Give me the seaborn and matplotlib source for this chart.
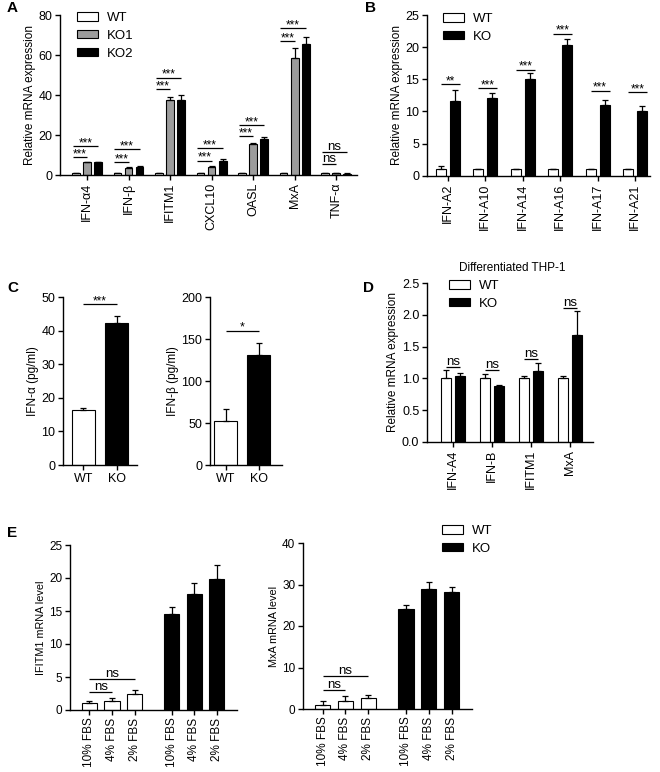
import numpy as np
import pandas as pd
import matplotlib
matplotlib.use("Agg")
import matplotlib.pyplot as plt
import seaborn as sns
from matplotlib.patches import Patch
from matplotlib.container import BarContainer

# ---------------- data ----------------
A_genes = ["IFN-α4", "IFN-β", "IFITM1", "CXCL10", "OASL", "MxA", "TNF-α"]
A_wt = [1.0, 1.0, 1.0, 1.0, 1.0, 1.0, 1.0]
A_wt_err = [0.2, 0.2, 0.2, 0.2, 0.2, 0.2, 0.2]
A_ko1 = [6.3, 3.7, 37.5, 4.2, 15.3, 58.7, 0.9]
A_ko1_err = [0.3, 0.3, 1.7, 0.5, 0.5, 4.6, 0.1]
A_ko2 = [6.3, 4.2, 37.5, 7.2, 17.8, 65.3, 0.7]
A_ko2_err = [0.2, 0.3, 2.5, 0.8, 1.2, 3.9, 0.1]
A_sig_lo = [8.8, 6.5, 42.8, 7.2, 19.5, 67.0, 5.3]
A_sig_hi = [14.5, 12.8, 48.7, 13.3, 24.8, 73.5, 11.3]
A_sig_lab = ["***", "***", "***", "***", "***", "***", "ns"]

B_genes = ["IFN-A2", "IFN-A10", "IFN-A14", "IFN-A16", "IFN-A17", "IFN-A21"]
B_wt = [1.0, 1.0, 1.0, 1.0, 1.0, 1.0]
B_wt_err = [0.5, 0.1, 0.1, 0.1, 0.1, 0.1]
B_ko = [11.6, 12.1, 15.1, 20.4, 11.0, 10.1]
B_ko_err = [1.8, 0.8, 0.8, 0.8, 0.7, 0.8]
B_sig = [14.2, 13.6, 16.5, 22.1, 13.2, 13.0]
B_sig_lab = ["**", "***", "***", "***", "***", "***"]

C_groups = ["WT", "KO"]
C_alpha = [16.3, 42.2]
C_alpha_err = [0.6, 2.2]
C_beta = [52.5, 130.8]
C_beta_err = [14.0, 15.0]
C_alpha_sig = 47.9
C_beta_sig = 160.0

D_genes = ["IFN-A4", "IFN-B", "IFITM1", "MxA"]
D_wt = [1.0, 1.0, 1.0, 1.0]
D_wt_err = [0.13, 0.07, 0.03, 0.03]
D_ko = [1.03, 0.875, 1.12, 1.69]
D_ko_err = [0.05, 0.025, 0.13, 0.37]
D_sig = [1.18, 1.13, 1.30, 2.11]

E_conditions = ["10% FBS", "4% FBS", "2% FBS"]
E_ifitm1_wt = [1.0, 1.36, 2.37]
E_ifitm1_wt_err = [0.4, 0.41, 0.73]
E_ifitm1_ko = [14.5, 17.6, 19.9]
E_ifitm1_ko_err = [1.1, 1.7, 2.1]
E_mxa_wt = [1.0, 1.9, 2.55]
E_mxa_wt_err = [0.9, 1.3, 0.75]
E_mxa_ko = [24.1, 28.9, 28.2]
E_mxa_ko_err = [0.9, 1.7, 1.2]
E_ifitm1_sig = [2.7, 4.7]
E_mxa_sig = [4.5, 7.9]

# ---------------- style ----------------
sns.set_style("ticks")
plt.rcParams["font.family"] = ["Liberation Sans", "DejaVu Sans"]
plt.rcParams.update({
    "axes.linewidth": 1.0,
    "axes.edgecolor": "black",
    "xtick.major.size": 3.5, "ytick.major.size": 3.5,
    "xtick.major.width": 1.0, "ytick.major.width": 1.0,
    "xtick.direction": "out", "ytick.direction": "out",
    "xtick.color": "black", "ytick.color": "black",
    "xtick.labelsize": 9, "ytick.labelsize": 9,
    "text.color": "black", "axes.labelcolor": "black",
    "xtick.major.pad": 2, "ytick.major.pad": 2,
})

W, H = 660, 772
fig = plt.figure(figsize=(W / 100, H / 100), dpi=100)
fig.patch.set_facecolor("white")

COL = {"WT": "white", "KO1": "#9c9c9c", "KO2": "black", "KO": "black"}
EC = "black"
LW = 0.8
STAR = 8.5
NS = 9.5


def px_axes(l, t, r, b):
    return fig.add_axes([l / W, 1 - b / H, (r - l) / W, (b - t) / H])


def long_df(cats, series):
    rows = []
    for name, vals in series:
        for c, v in zip(cats, vals):
            rows.append({"cat": c, "grp": name, "val": v})
    return pd.DataFrame(rows)


def bar_containers(ax):
    return [c for c in ax.containers if isinstance(c, BarContainer)]


def add_err(ax, errs_list):
    for cont, errs in zip(bar_containers(ax), errs_list):
        xs = [b.get_x() + b.get_width() / 2 for b in cont]
        ys = [b.get_height() for b in cont]
        ax.errorbar(xs, ys, yerr=[np.zeros(len(errs)), errs], fmt="none",
                    ecolor="black", elinewidth=0.9, capsize=2.3, capthick=0.9,
                    zorder=3)


def centers(ax):
    return [[b.get_x() + b.get_width() / 2 for b in c] for c in bar_containers(ax)]


def sig(ax, x0, x1, y, text, fs):
    ax.plot([x0, x1], [y, y], color="black", lw=0.9, solid_capstyle="butt",
            zorder=4)
    off = 0.0 if "*" in text else 1.5
    ax.annotate(text, xy=((x0 + x1) / 2, y), xytext=(0, off),
                textcoords="offset points", ha="center", va="baseline",
                fontsize=fs)


def finish(ax, ymax, step, ylabel, lsize, fmt=None, rot=True):
    ax.set_ylim(0, ymax)
    ticks = np.arange(0, ymax + step / 2, step)
    ax.set_yticks(ticks)
    if fmt:
        ax.set_yticklabels([fmt.format(t) for t in ticks])
    ax.set_xlabel("")
    ax.set_ylabel(ylabel, fontsize=lsize, labelpad=2)
    sns.despine(ax=ax)
    if rot:
        ax.tick_params(axis="x", labelrotation=90)


def legend_at(names, colors, x, y_first, fs=9.5):
    handles = [Patch(facecolor=c, edgecolor=EC, linewidth=LW) for c in colors]
    fig.legend(handles, names, loc="upper left",
               bbox_to_anchor=(x / W, 1 - (y_first - 7) / H),
               frameon=False, fontsize=fs, handlelength=1.6, handleheight=0.6,
               handletextpad=0.7, labelspacing=0.45, borderpad=0,
               borderaxespad=0)


# ---------------- Panel A ----------------
axA = px_axes(60, 15, 357, 175)
dfA = long_df(A_genes, [("WT", A_wt), ("KO1", A_ko1), ("KO2", A_ko2)])
sns.barplot(data=dfA, x="cat", y="val", hue="grp", order=A_genes,
            hue_order=["WT", "KO1", "KO2"], palette=COL, saturation=1,
            width=0.8, gap=0.3, edgecolor=EC, linewidth=LW, errorbar=None,
            legend=False, ax=axA)
add_err(axA, [A_wt_err, A_ko1_err, A_ko2_err])
cA = centers(axA)
for i, lab in enumerate(A_sig_lab):
    fs = STAR if lab != "ns" else NS
    x0 = cA[0][i] - 0.08
    sig(axA, x0, cA[1][i], A_sig_lo[i], lab, fs)
    sig(axA, x0, cA[2][i], A_sig_hi[i], lab, fs)
axA.set_xlim(-0.65, 6.5)
finish(axA, 80, 20, "Relative mRNA expression", 8.5)
legend_at(["WT", "KO1", "KO2"], [COL["WT"], COL["KO1"], COL["KO2"]], 77, 19)

# ---------------- Panel B ----------------
axB = px_axes(427, 15, 650, 175.7)
dfB = long_df(B_genes, [("WT", B_wt), ("KO", B_ko)])
sns.barplot(data=dfB, x="cat", y="val", hue="grp", order=B_genes,
            hue_order=["WT", "KO"], palette=COL, saturation=1,
            width=0.75, gap=0.29, edgecolor=EC, linewidth=LW, errorbar=None,
            legend=False, ax=axB)
add_err(axB, [B_wt_err, B_ko_err])
cB = centers(axB)
bw = bar_containers(axB)[1][0].get_width()
for i, lab in enumerate(B_sig_lab):
    sig(axB, cB[0][i], cB[1][i] + bw / 2, B_sig[i], lab, STAR)
axB.set_xlim(-0.56, 5.4)
finish(axB, 25, 5, "Relative mRNA expression", 8.5)
legend_at(["WT", "KO"], [COL["WT"], COL["KO"]], 443, 20)

# ---------------- Panel C ----------------
axC1 = px_axes(63, 297, 137, 465)
sns.barplot(x=C_groups, y=C_alpha, hue=C_groups, order=C_groups,
            hue_order=C_groups, palette=COL, saturation=1, width=0.69,
            edgecolor=EC, linewidth=LW, errorbar=None, legend=False, ax=axC1)
add_err(axC1, [[C_alpha_err[0]], [C_alpha_err[1]]])
cc = centers(axC1)
sig(axC1, cc[0][0], cc[1][0], C_alpha_sig, "***", STAR)
axC1.set_xlim(-0.61, 1.6)
finish(axC1, 50, 10, "IFN-α (pg/ml)", 8.5, rot=False)

axC2 = px_axes(210, 297, 282, 465)
sns.barplot(x=C_groups, y=C_beta, hue=C_groups, order=C_groups,
            hue_order=C_groups, palette=COL, saturation=1, width=0.69,
            edgecolor=EC, linewidth=LW, errorbar=None, legend=False, ax=axC2)
add_err(axC2, [[C_beta_err[0]], [C_beta_err[1]]])
cc = centers(axC2)
sig(axC2, cc[0][0], cc[1][0], C_beta_sig, "*", 9)
axC2.set_xlim(-0.48, 1.7)
finish(axC2, 200, 50, "IFN-β (pg/ml)", 8.5, rot=False)

# ---------------- Panel D ----------------
axD = px_axes(427, 283, 593, 442)
dfD = long_df(D_genes, [("WT", D_wt), ("KO", D_ko)])
sns.barplot(data=dfD, x="cat", y="val", hue="grp", order=D_genes,
            hue_order=["WT", "KO"], palette=COL, saturation=1,
            width=0.72, gap=0.29, edgecolor=EC, linewidth=LW, errorbar=None,
            legend=False, ax=axD)
add_err(axD, [D_wt_err, D_ko_err])
cD = centers(axD)
for i in range(len(D_genes)):
    sig(axD, cD[0][i], cD[1][i], D_sig[i], "ns", NS)
axD.set_xlim(-0.67, 3.59)
finish(axD, 2.5, 0.5, "Relative mRNA expression", 8.5, fmt="{:.1f}")
legend_at(["WT", "KO"], [COL["WT"], COL["KO"]], 449, 287)
fig.text(512 / W, 1 - 268 / H, "Differentiated THP-1", ha="center",
         va="center", fontsize=8.5)

# ---------------- Panel E ----------------
KO_OFFSET = 3.65
pos = list(np.arange(3)) + list(np.arange(3) + KO_OFFSET)
genos = ["WT"] * 3 + ["KO"] * 3
labels_E = E_conditions + E_conditions


def panel_E(ax, wt, wt_err, ko, ko_err, siglines, ymax, step, ylabel):
    df = pd.DataFrame({"pos": pos, "val": list(wt) + list(ko), "geno": genos})
    sns.barplot(data=df, x="pos", y="val", hue="geno", hue_order=["WT", "KO"],
                native_scale=True, dodge=False, palette=COL, saturation=1,
                width=0.67, edgecolor=EC, linewidth=LW, errorbar=None,
                legend=False, ax=ax)
    add_err(ax, [wt_err, ko_err])
    c = centers(ax)
    sig(ax, c[0][0], c[0][1], siglines[0], "ns", NS)
    sig(ax, c[0][0], c[0][2], siglines[1], "ns", NS)
    ax.set_xlim(-0.86, 6.54)
    ax.set_xticks(pos)
    ax.set_xticklabels(labels_E)
    finish(ax, ymax, step, ylabel, 7.8)
    ax.tick_params(axis="both", labelsize=8.5)


axE1 = px_axes(70, 545, 237, 710)
panel_E(axE1, E_ifitm1_wt, E_ifitm1_wt_err, E_ifitm1_ko, E_ifitm1_ko_err,
        E_ifitm1_sig, 25, 5, "IFITM1 mRNA level")
axE2 = px_axes(303, 543, 472, 709)
panel_E(axE2, E_mxa_wt, E_mxa_wt_err, E_mxa_ko, E_mxa_ko_err,
        E_mxa_sig, 40, 10, "MxA mRNA level")
legend_at(["WT", "KO"], [COL["WT"], COL["KO"]], 442, 532)

# ---------------- panel letters ----------------
for lab, x, y in [("A", 7, 8), ("B", 365, 8), ("C", 7, 288), ("D", 363, 288),
                  ("E", 7, 533)]:
    fig.text(x / W, 1 - y / H, lab, fontweight="bold", fontsize=11,
             ha="left", va="center")

fig.savefig("out.png", dpi=100, facecolor="white")
